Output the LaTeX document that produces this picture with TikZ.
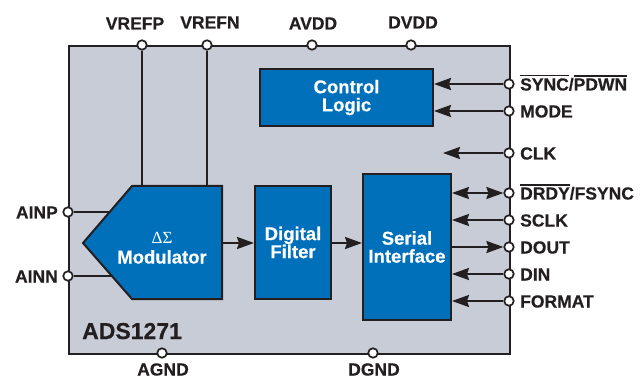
\documentclass[tikz,border=0pt]{standalone}
\usepackage{fontspec}
\setmainfont{Liberation Sans}[BoldFeatures={FakeBold=0.5}]
\newfontfamily\grkfont{Liberation Serif}
\usetikzlibrary{arrows.meta}
\definecolor{ink}{HTML}{231F20}
\definecolor{chipgray}{HTML}{C7CCD6}
\definecolor{adblue}{HTML}{0070BA}
\newcommand\ovl[1]{\vbox{\hrule height 1.5pt\kern 1.8pt\hbox{#1}}}
\tikzset{
  pinc/.style={circle, draw=ink, fill=white, line width=1.7pt, minimum size=9.5pt, inner sep=0pt},
  lbl/.style={font=\bfseries\fontsize{17.5}{19}\selectfont, text=ink, inner sep=0pt},
  blk/.style={draw=ink, fill=adblue, line width=2pt, text=white, align=center, inner sep=0pt,
              font=\bfseries\fontsize{18.5}{18}\selectfont},
  wire/.style={draw=ink, line width=2.2pt},
  arr/.style={wire, -{Stealth[length=17pt,width=12pt,inset=2pt]}},
  darr/.style={wire, {Stealth[length=17pt,width=12pt,inset=2pt]}-{Stealth[length=17pt,width=12pt,inset=2pt]}}
}
\begin{document}
\begin{tikzpicture}[x=1pt,y=-1pt]
\useasboundingbox (0,0) rectangle (644,379);
% chip body
\node[draw=ink, fill=chipgray, line width=2pt, minimum width=441pt, minimum height=308pt,
      inner sep=0pt, anchor=north west] (chip) at (68,45) {};
\node[lbl, anchor=base west, font=\bfseries\fontsize{23}{24}\selectfont] (partno) at (82,339) {ADS1271};
% pins
\node[pinc] (vrefp) at (142,45) {};
\node[pinc] (vrefn) at (207,45) {};
\node[pinc] (avdd) at (312,45) {};
\node[pinc] (dvdd) at (411,45) {};
\node[pinc] (ainp) at (68,212) {};
\node[pinc] (ainn) at (68,276) {};
\node[pinc] (agnd) at (162,353) {};
\node[pinc] (dgnd) at (373,353) {};
\node[pinc] (sync) at (509,84) {};
\node[pinc] (mode) at (509,111) {};
\node[pinc] (clk) at (509,153) {};
\node[pinc] (drdy) at (509,193) {};
\node[pinc] (sclk) at (509,220) {};
\node[pinc] (dout) at (509,247) {};
\node[pinc] (din) at (509,274) {};
\node[pinc] (format) at (509,301) {};
% pin labels
\node[lbl, anchor=base] (lvrefp) at (135,29.5) {VREFP};
\node[lbl, anchor=base] (lvrefn) at (210,28.5) {VREFN};
\node[lbl, anchor=base] (lavdd) at (313,29.5) {AVDD};
\node[lbl, anchor=base] (ldvdd) at (413,28.5) {DVDD};
\node[lbl, anchor=base east] (lainp) at (58,218.5) {AINP};
\node[lbl, anchor=base east] (lainn) at (58,282.5) {AINN};
\node[lbl, anchor=base] (lagnd) at (163,375.5) {AGND};
\node[lbl, anchor=base] (ldgnd) at (374,375.5) {DGND};
\node[lbl, anchor=base west] (lsync) at (520,90.5) {\ovl{SYNC}/\ovl{PDWN}};
\node[lbl, anchor=base west] (lmode) at (520,117.5) {MODE};
\node[lbl, anchor=base west] (lclk) at (520,159.5) {CLK};
\node[lbl, anchor=base west] (ldrdy) at (520,199.5) {\ovl{DRDY}/FSYNC};
\node[lbl, anchor=base west] (lsclk) at (520,226.5) {SCLK};
\node[lbl, anchor=base west] (ldout) at (520,253.5) {DOUT};
\node[lbl, anchor=base west] (ldin) at (520,280.5) {DIN};
\node[lbl, anchor=base west] (lformat) at (520,307.5) {FORMAT};
% modulator shape
\coordinate (mTL) at (132,186);
\coordinate (mTR) at (222,186);
\coordinate (mBR) at (222,299);
\coordinate (mBL) at (132,299);
\coordinate (mTip) at (83,243);
\coordinate (ainpE) at (112,212);
\coordinate (ainnE) at (114,276);
\coordinate (modR) at (222,243);
\draw[wire] (ainp) -- (ainpE);
\draw[wire] (ainn) -- (ainnE);
\draw[wire] (vrefp) -- (vrefp |- mTL);
\draw[wire] (vrefn) -- (vrefn |- mTL);
\draw[draw=ink, fill=adblue, line width=2pt, line join=miter] (mTL) -- (mTR) -- (mBR) -- (mBL) -- (mTip) -- cycle;
\node[text=white, align=center, inner sep=0pt, font=\bfseries\fontsize{18.5}{20}\selectfont] (mod) at (162,248)
  {{\grkfont\mdseries\fontsize{17}{17}\selectfont ΔΣ}\\Modulator};
% blocks
\node[blk, minimum width=173pt, minimum height=57pt] (ctl) at (346.5,97.5) {Control\\Logic};
\node[blk, minimum width=76pt, minimum height=113pt] (filt) at (293,242.5) {Digital\\Filter};
\node[blk, minimum width=88pt, minimum height=146pt] (ser) at (407,247) {Serial\\Interface};
% internal arrows
\draw[arr] (modR) -- (filt.west |- modR);
\draw[arr] (filt.east |- modR) -- (ser.west |- modR);
\coordinate (clkE) at (443,153);
\draw[arr] (sync) -- (ctl.east |- sync);
\draw[arr] (mode) -- (ctl.east |- mode);
\draw[arr] (clk) -- (clkE);
\draw[darr] (ser.east |- drdy) -- (drdy);
\draw[arr] (sclk) -- (ser.east |- sclk);
\draw[arr] (ser.east |- dout) -- (dout);
\draw[arr] (din) -- (ser.east |- din);
\draw[arr] (format) -- (ser.east |- format);
\end{tikzpicture}
\end{document}
